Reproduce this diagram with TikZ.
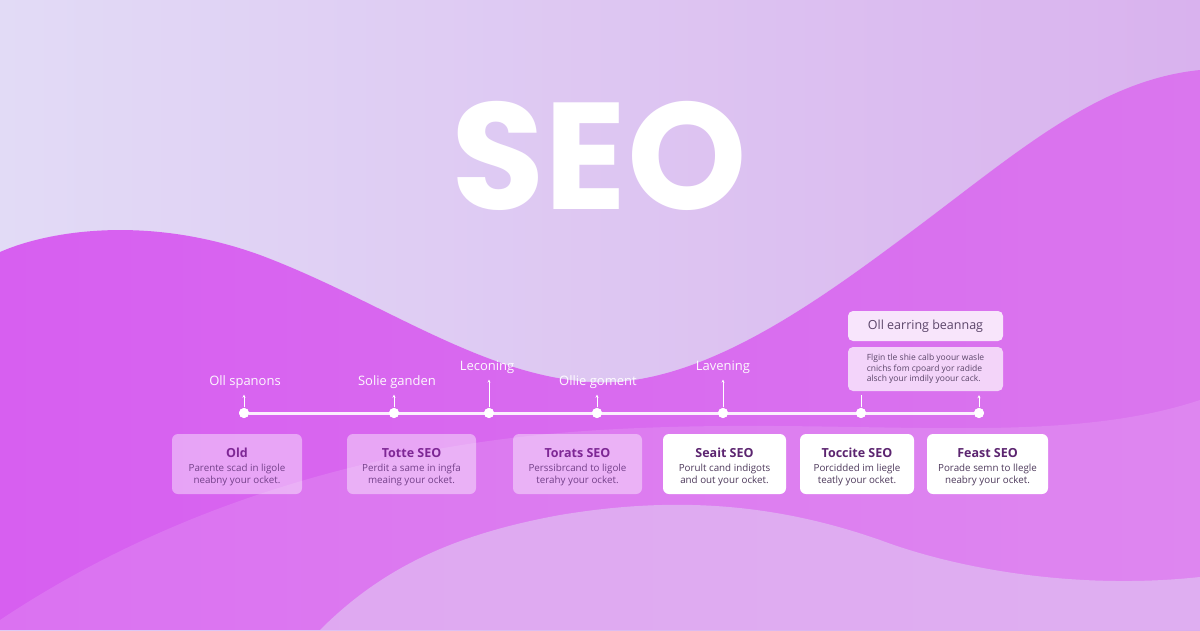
\documentclass[tikz,border=0pt]{standalone}
\usepackage{fontspec}
\setmainfont{Open Sans}
\newfontfamily\seofont{Poppins}
\usetikzlibrary{arrows.meta,positioning}

\definecolor{bgleft}{HTML}{E2DBF6}
\definecolor{bgright}{HTML}{D9B2EE}
\definecolor{waveleft}{HTML}{D75FF0}
\definecolor{waveright}{HTML}{DA76EE}
\definecolor{lowlav}{HTML}{E1CAF3}
\definecolor{cardtitle}{HTML}{7E2795}
\definecolor{cardtext}{HTML}{74408A}
\definecolor{inktitle}{HTML}{5C2570}
\definecolor{inktext}{HTML}{4E3A5C}
\definecolor{notetext}{HTML}{5B4569}

\newcommand{\cardhead}[1]{{\bfseries\fontsize{12.5}{14}\selectfont #1}}

\begin{document}
\begin{tikzpicture}[
  x=1pt,
  y=-1pt,
  line join=round,
  line cap=round,
  dot/.style={circle,fill=white,inner sep=0pt,minimum size=10pt},
  mark label/.style={inner sep=0pt,text=white,text opacity=0.95,
    font=\fontsize{13}{15}\selectfont},
  tick/.style={draw=white,line width=0.8pt,shorten <=1pt,shorten >=6pt,
    -{Stealth[length=3pt,width=3pt]}},
  glass/.style={rectangle,rounded corners=6pt,fill=white,fill opacity=0.42,
    minimum height=60pt,inner sep=0pt},
  paper/.style={glass,fill opacity=1},
  cardbody/.style={inner sep=0pt,align=center,text=cardtext,
    font=\fontsize{9.8}{12.3}\selectfont},
  note/.style={rectangle,rounded corners=5pt,fill=white,fill opacity=0.82,
    text opacity=1,text=notetext,minimum width=155pt,inner sep=0pt}
]
  \useasboundingbox (0,0) rectangle (1200,630);

  % Background and waves.
  \shade[left color=bgleft,right color=bgright] (0,0) rectangle (1200,630);
  \shade[left color=waveleft,right color=waveright]
    (0,252) .. controls (50,230) and (150,215) .. (260,255)
    .. controls (380,300) and (480,375) .. (590,382)
    .. controls (700,389) and (820,300) .. (920,225)
    .. controls (1020,150) and (1100,80) .. (1200,70)
    -- (1200,630) -- (0,630) -- cycle;
  \fill[white,opacity=0.12]
    (0,620) .. controls (150,520) and (350,445) .. (600,430)
    .. controls (850,415) and (1050,450) .. (1200,400)
    -- (1200,630) -- (0,630) -- cycle;
  \fill[lowlav,opacity=0.6]
    (320,630) .. controls (380,570) and (450,535) .. (560,515)
    .. controls (680,495) and (780,505) .. (880,540)
    .. controls (960,570) and (1080,590) .. (1200,577)
    -- (1200,630) -- cycle;

  % Title.
  \node[inner sep=0pt,text=white] (seo) at (599,156)
    {\seofont\bfseries\fontsize{152}{152}\selectfont SEO};

  % Timeline.
  \node[dot] (d1) at (244,413) {};
  \node[dot] (d2) at (394,413) {};
  \node[dot] (d3) at (489,413) {};
  \node[dot] (d4) at (597,413) {};
  \node[dot] (d5) at (723,413) {};
  \node[dot] (d6) at (861,413) {};
  \node[dot] (d7) at (979,413) {};
  \draw[white,line width=3pt,opacity=0.9] (d1) -- (d7);
  \foreach \p in {d1,d2,d3,d4,d5,d6,d7} {
    \node[dot] at (\p) {};
  }

  \node[mark label] (l1) at (245,382) {Oll spanons};
  \node[mark label] (l2) at (397,382) {Solie ganden};
  \node[mark label] (l3) at (487,367) {Leconing};
  \node[mark label] (l4) at (598,382) {Ollie goment};
  \node[mark label] (l5) at (723,367) {Lavening};

  \foreach \d/\l in {d1/l1,d2/l2,d3/l3,d4/l4,d5/l5} {
    \draw[tick] (\d.north) -- (\d.north |- \l.south);
  }

  % Notes above the last two marks.
  \node[note,minimum height=30pt,font=\fontsize{12.5}{14}\selectfont]
    (n1) at (925.5,326) {Oll earring beannag};
  \node[note,minimum height=44pt,fill opacity=0.7,align=left,
    font=\fontsize{8.5}{10.5}\selectfont]
    (n2) at (925.5,369) {Flgin tle shie calb yoour wasle\\
      cnichs fom cpoard yor radide\\alsch your imdily yoour cack.};
  \draw[tick,-,shorten >=4pt] (d6.north) -- (d6.north |- n2.south);
  \draw[tick,shorten >=4pt] (d7.north) -- (d7.north |- n2.south);

  % Cards.
  \node[glass,minimum width=130pt] (c1) at (237,464) {};
  \node[glass,minimum width=129pt] (c2) at (411.5,464) {};
  \node[glass,minimum width=129pt] (c3) at (577.5,464) {};
  \node[paper,minimum width=123pt] (c4) at (724.5,464) {};
  \node[paper,minimum width=114pt] (c5) at (857,464) {};
  \node[paper,minimum width=121pt] (c6) at (987.5,464) {};

  \node[cardbody] (t1) at ([yshift=-3pt]c1.center)
    {\textcolor{cardtitle}{\cardhead{Old}}\\[2pt]
     Parente scad in ligole\\neabny your ocket.};
  \node[cardbody] (t2) at ([yshift=-3pt]c2.center)
    {\textcolor{cardtitle}{\cardhead{Totte SEO}}\\[2pt]
     Perdit a same in ingfa\\meaing your ocket.};
  \node[cardbody] (t3) at ([yshift=-3pt]c3.center)
    {\textcolor{cardtitle}{\cardhead{Torats SEO}}\\[2pt]
     Perssibrcand to ligole\\terahy your ocket.};
  \node[cardbody,text=inktext] (t4) at ([yshift=-3pt]c4.center)
    {\textcolor{inktitle}{\cardhead{Seait SEO}}\\[2pt]
     Porult cand indigots\\and out your ocket.};
  \node[cardbody,text=inktext] (t5) at ([yshift=-3pt]c5.center)
    {\textcolor{inktitle}{\cardhead{Toccite SEO}}\\[2pt]
     Porcidded im liegle\\teatly your ocket.};
  \node[cardbody,text=inktext] (t6) at ([yshift=-3pt]c6.center)
    {\textcolor{inktitle}{\cardhead{Feast SEO}}\\[2pt]
     Porade semn to llegle\\neabry your ocket.};
\end{tikzpicture}
\end{document}
